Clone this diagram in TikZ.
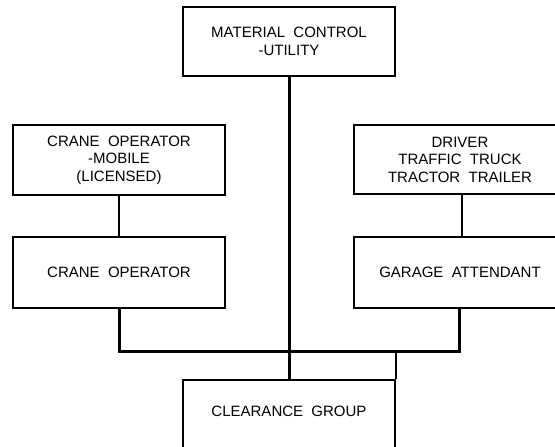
\documentclass[tikz,border=0pt]{standalone}
\usepackage{fontspec}
\setmainfont{Liberation Sans}
\begin{document}
\begin{tikzpicture}[x=1pt,y=1pt,
  box/.style={draw=black, line width=2.4pt, rectangle, align=center, inner sep=0pt,
    minimum width=212pt, font=\fontsize{15}{17.5}\selectfont},
  thinline/.style={line width=1.9pt},
  thickline/.style={line width=3pt, line join=miter},
]
\useasboundingbox (0,0) rectangle (555,447);
\clip (0,0) rectangle (555,447);
\fill[white] (0,0) rectangle (555,447);
\node[box, minimum height=69pt] (top) at (289,405.5) {MATERIAL\ \ CONTROL\\-UTILITY};
\node[box, minimum height=70pt] (lt) at (119,287) {CRANE\ \ OPERATOR\\-MOBILE\\(LICENSED)};
\node[box, minimum height=71pt] (crane) at (119,174.5) {CRANE\ \ OPERATOR};
\node[box, minimum height=69pt] (rt) at (460,287.5) {DRIVER\\TRAFFIC\ \ TRUCK\\TRACTOR\ \ TRAILER};
\node[box, minimum height=71pt] (garage) at (460,174.5) {GARAGE\ \ ATTENDANT};
\node[box, minimum height=80pt] (clear) at (289,27) {CLEARANCE\ \ GROUP\\\mbox{}};
\coordinate (bus) at (0,95);
\draw[thinline] (lt.south) -- (crane.north);
\draw[thinline] ([xshift=2pt]rt.south) -- ([xshift=2pt]garage.north);
\draw[thickline] (top.south) -- (clear.north);
\draw[thickline] (crane.south) |- ([xshift=-1pt]garage.south |- bus) -- ([xshift=-1pt]garage.south);
\draw[line width=2.4pt] (clear.north east) -- (clear.north east |- bus);
\end{tikzpicture}
\end{document}
